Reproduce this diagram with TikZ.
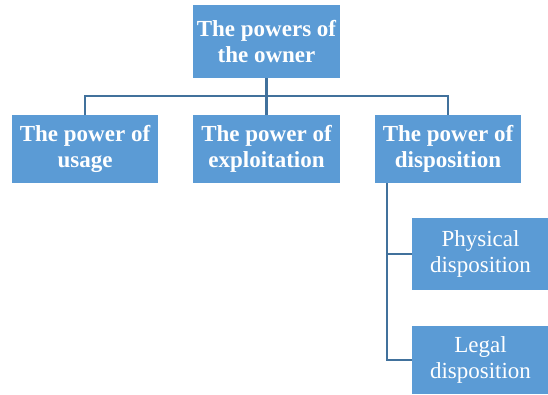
\documentclass[tikz,border=0pt]{standalone}
\usepackage{fontspec}
\setmainfont{Liberation Serif}
\usepackage{tikz}
\usetikzlibrary{calc}

\definecolor{boxblue}{HTML}{5B9BD5}
\definecolor{lineblue}{HTML}{41719C}

\tikzset{
  power/.style={fill=boxblue, text=white, align=center, inner sep=0pt,
    font=\fontsize{23}{26}\selectfont\bfseries},
  kind/.style={fill=boxblue, text=white, align=center, inner sep=0pt,
    font=\fontsize{23}{26}\selectfont},
  link/.style={draw=lineblue, line width=2.6pt}
}

\begin{document}
\begin{tikzpicture}[x=1pt,y=-1pt]
\useasboundingbox (0,0) rectangle (548,394);

\node [power, minimum width=147pt, minimum height=73pt] (owner) at (266.5,41.5) {The powers of\\the owner};

\node [power, minimum width=146pt, minimum height=68pt] (usage) at (85,149) {The power of\\usage};
\node [power, minimum width=147pt, minimum height=68pt] (exploit) at (266.5,149) {The power of\\exploitation};
\node [power, minimum width=146pt, minimum height=68pt] (dispos) at (448,149) {The power of\\disposition};

\node [kind, minimum width=137pt, minimum height=72pt] (physical) at (480.5,254) {Physical\\disposition};
\node [kind, minimum width=137pt, minimum height=68pt] (legal) at (480.5,360) {Legal\\disposition};

\coordinate (bus) at (0,96);
\coordinate (spine) at (387,0);

% top level
\draw [link] (owner.south) -- (owner.south |- bus);
\draw [link] (usage.north) |- (dispos.north |- bus) -- (dispos.north);
\draw [link] (exploit.north) -- (exploit.north |- bus);

% disposition
\draw [link] (spine |- dispos.south) |- (physical.west);
\draw [link] (spine |- dispos.south) |- (legal.west);
\end{tikzpicture}
\end{document}
